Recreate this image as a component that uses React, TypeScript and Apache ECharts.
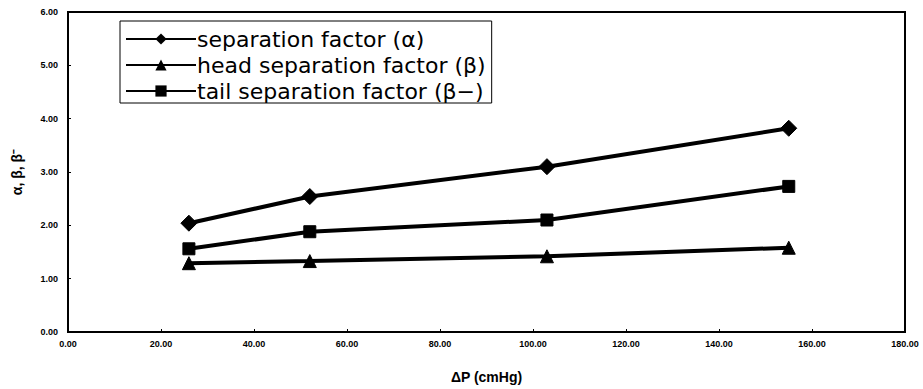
import React, { useEffect, useRef } from "react";
import * as echarts from "echarts";

const xValues = [26, 52, 103, 155];
const alphaValues = [2.04, 2.54, 3.1, 3.82];
const headValues = [1.29, 1.33, 1.42, 1.58];
const tailValues = [1.56, 1.88, 2.1, 2.73];
const seriesNames = [
  "separation factor (α)",
  "head separation factor (β)",
  "tail separation factor (β−)",
];

const font = "'Liberation Sans', Arial, sans-serif";
const legendFont = "'DejaVu Sans', 'Liberation Sans', sans-serif";

export default function App() {
  const ref = useRef<HTMLDivElement>(null);
  useEffect(() => {
    if (!ref.current) return;
    const chart = echarts.init(ref.current, null, { renderer: "svg" });
    const mk = (name: string, vals: number[], symbol: string, size: number) => ({
      name,
      type: "line",
      data: xValues.map((x, i) => [x, vals[i]]),
      symbol,
      symbolSize: size,
      showAllSymbol: true,
      lineStyle: { color: "#000", width: 4 },
      itemStyle: { color: "#000", borderColor: "#000" },
    });
    chart.setOption({
      animation: false,
      backgroundColor: "#fff",
      grid: {
        left: 68,
        right: 18,
        top: 12,
        bottom: 57,
        show: true,
        borderColor: "#000",
        borderWidth: 2,
      },
      legend: {
        orient: "vertical",
        left: 120,
        top: 21,
        itemWidth: 70,
        itemHeight: 14,
        itemGap: 4,
        padding: [7, 6, 1, 5],
        borderColor: "#000",
        borderWidth: 1,
        textStyle: { fontFamily: legendFont, fontSize: 22, color: "#000", padding: [0, 0, 0, -4] },
        data: seriesNames,
      },
      xAxis: {
        type: "value",
        min: 0,
        max: 180,
        interval: 20,
        name: "ΔP (cmHg)",
        nameLocation: "middle",
        nameGap: 38,
        nameTextStyle: { fontFamily: font, fontSize: 14, fontWeight: "bold", color: "#000" },
        axisLine: { show: true, lineStyle: { color: "#000", width: 2 } },
        axisTick: { show: true, inside: true, length: 3, lineStyle: { color: "#000" } },
        splitLine: { show: false },
        axisLabel: {
          fontFamily: font,
          fontSize: 9,
          fontWeight: "bold",
          color: "#000",
          margin: 7,
          formatter: (v: number) => v.toFixed(2),
        },
      },
      yAxis: {
        type: "value",
        min: 0,
        max: 6,
        interval: 1,
        name: "α, β, β⁻",
        nameLocation: "middle",
        nameGap: 44,
        nameRotate: 90,
        nameTextStyle: { fontFamily: font, fontSize: 14, fontWeight: "bold", color: "#000" },
        axisLine: { show: true, lineStyle: { color: "#000", width: 2 } },
        axisTick: { show: true, inside: true, length: 3, lineStyle: { color: "#000" } },
        splitLine: { show: false },
        axisLabel: {
          fontFamily: font,
          fontSize: 9,
          fontWeight: "bold",
          color: "#000",
          margin: 10,
          formatter: (v: number) => v.toFixed(2),
        },
      },
      series: [
        mk(seriesNames[0], alphaValues, "diamond", 16),
        mk(seriesNames[1], headValues, "triangle", 13),
        mk(seriesNames[2], tailValues, "rect", 12),
      ],
    });
    return () => chart.dispose();
  }, []);
  return (
    <div
      ref={ref}
      style={{ position: "absolute", left: 0, top: 0, width: 923, height: 389 }}
    />
  );
}
